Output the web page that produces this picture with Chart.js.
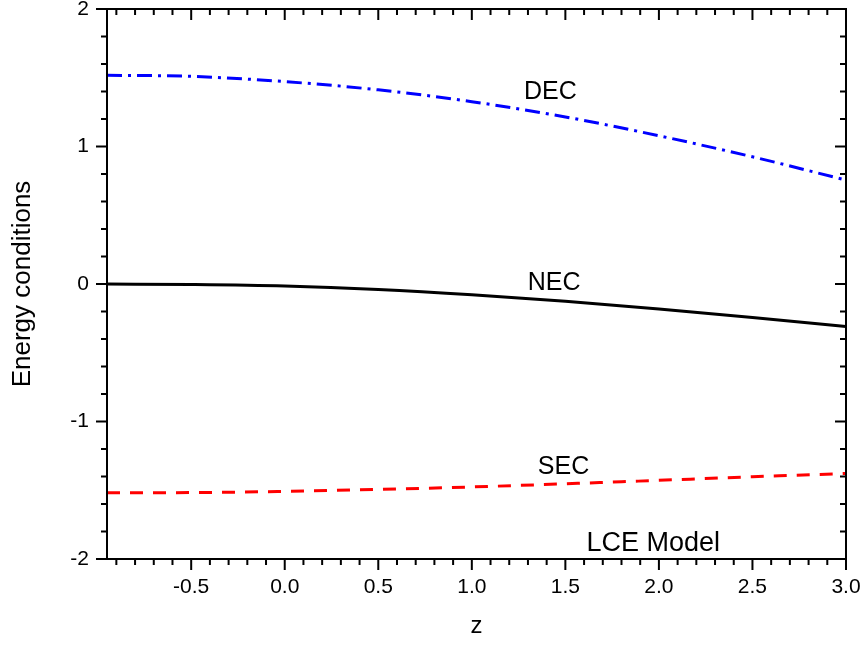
<!DOCTYPE html>
<html>
<head>
<meta charset="utf-8">
<script src="https://cdn.jsdelivr.net/npm/chart.js"></script>
<style>
  body { margin: 0; background: #fff; }
  #wrap { width: 865px; height: 647px; }
</style>
</head>
<body>
<div id="wrap"><canvas id="chartEC"></canvas></div>
<script>
// values
const zValues = [-0.95, -0.5, 0.0, 0.5, 1.0, 1.5, 2.0, 2.5, 3.0]
const decValues = [1.518, 1.510, 1.472, 1.412, 1.326, 1.215, 1.078, 0.925, 0.756]
const necValues = [0.0, -0.004, -0.015, -0.040, -0.078, -0.126, -0.181, -0.243, -0.310]
const secValues = [-1.518, -1.517, -1.508, -1.494, -1.476, -1.453, -1.428, -1.402, -1.378]

const xTicks = [-0.5, 0.0, 0.5, 1.0, 1.5, 2.0, 2.5, 3.0]
const yTicks = [-2, -1, 0, 1, 2]

// curve labels, placed in data units
const labelText = ['DEC', 'NEC', 'SEC', 'LCE Model']
const labelX = [1.42, 1.44, 1.49, 1.97]
const labelY = [1.396, 0.01, -1.33, -1.885]
const labelSize = [25, 25, 25, 27]

const fontName = '"Liberation Sans", Arial, sans-serif'

function toPoints (ys) {
    return zValues.map(function (z, i) { return { x: z, y: ys[i] } })
}

// frame, minor/major ticks on all four sides, and the curve labels
const framePlugin = {
    id: 'frame',
    afterDraw: function (chart) {
        const ctx = chart.ctx
        const a = chart.chartArea
        const x = chart.scales.x
        const y = chart.scales.y
        ctx.save()
        ctx.strokeStyle = '#000'
        ctx.lineWidth = 2
        ctx.strokeRect(a.left, a.top, a.right - a.left, a.bottom - a.top)

        ctx.beginPath()
        for (let k = -9; k <= 30; k++) {
            let px = x.getPixelForValue(k / 10)
            let len = (k % 5 === 0) ? 11 : 6
            ctx.moveTo(px, a.bottom); ctx.lineTo(px, a.bottom + len)
            ctx.moveTo(px, a.top); ctx.lineTo(px, a.top + len)
        }
        for (let k = -10; k <= 10; k++) {
            let py = y.getPixelForValue(k / 5)
            let len = (k % 5 === 0) ? 11 : 6
            ctx.moveTo(a.left, py); ctx.lineTo(a.left - len, py)
            ctx.moveTo(a.right, py); ctx.lineTo(a.right - len, py)
        }
        ctx.stroke()

        ctx.fillStyle = '#000'
        ctx.textAlign = 'center'
        ctx.textBaseline = 'middle'
        for (let i = 0; i < labelText.length; i++) {
            ctx.font = labelSize[i] + 'px ' + fontName
            ctx.fillText(labelText[i], x.getPixelForValue(labelX[i]), y.getPixelForValue(labelY[i]))
        }
        ctx.restore()
    }
}

let canvs = document.getElementById('chartEC').getContext('2d')
let chartEC = new Chart(canvs, {
    type: 'line',
    data: {
        datasets: [
            {
                label: 'DEC',
                data: toPoints(decValues),
                borderColor: '#0000ff',
                borderWidth: 3,
                borderDash: [15, 6, 3, 6],
                pointRadius: 0,
                cubicInterpolationMode: 'monotone'
            },
            {
                label: 'NEC',
                data: toPoints(necValues),
                borderColor: '#000000',
                borderWidth: 3,
                pointRadius: 0,
                cubicInterpolationMode: 'monotone'
            },
            {
                label: 'SEC',
                data: toPoints(secValues),
                borderColor: '#ff0000',
                borderWidth: 3,
                borderDash: [13, 10],
                pointRadius: 0,
                cubicInterpolationMode: 'monotone'
            }
        ]
    },
    options: {
        responsive: true,
        maintainAspectRatio: false,
        animation: false,
        layout: { padding: { top: 9, right: 19, left: 0, bottom: 0 } },
        plugins: {
            legend: { display: false },
            tooltip: { enabled: false }
        },
        scales: {
            x: {
                type: 'linear',
                min: -0.95,
                max: 3.0,
                afterBuildTicks: function (scale) {
                    scale.ticks = xTicks.map(function (v) { return { value: v } })
                },
                afterFit: function (scale) {
                    scale.height = 88
                    scale.paddingLeft = 0
                    scale.paddingRight = 0
                },
                grid: { drawOnChartArea: false, color: 'rgba(0,0,0,0)', tickLength: 11 },
                border: { display: false },
                ticks: {
                    color: '#000',
                    padding: 5,
                    maxRotation: 0,
                    autoSkip: false,
                    font: { family: fontName, size: 21 },
                    callback: function (v) { return Number(v).toFixed(1) }
                },
                title: {
                    display: true,
                    text: 'z',
                    color: '#000',
                    padding: { top: 6, bottom: 6 },
                    font: { family: fontName, size: 24 }
                }
            },
            y: {
                min: -2,
                max: 2,
                afterBuildTicks: function (scale) {
                    scale.ticks = yTicks.map(function (v) { return { value: v } })
                },
                afterFit: function (scale) {
                    scale.width = 107
                    scale.paddingTop = 0
                    scale.paddingBottom = 0
                },
                grid: { drawOnChartArea: false, color: 'rgba(0,0,0,0)', tickLength: 11 },
                border: { display: false },
                ticks: {
                    color: '#000',
                    padding: 7,
                    autoSkip: false,
                    font: { family: fontName, size: 21 },
                    callback: function (v) { return String(v) }
                },
                title: {
                    display: true,
                    text: 'Energy conditions',
                    color: '#000',
                    padding: { top: 7, bottom: 7 },
                    font: { family: fontName, size: 26 }
                }
            }
        }
    },
    plugins: [framePlugin]
})
</script>
</body>
</html>
